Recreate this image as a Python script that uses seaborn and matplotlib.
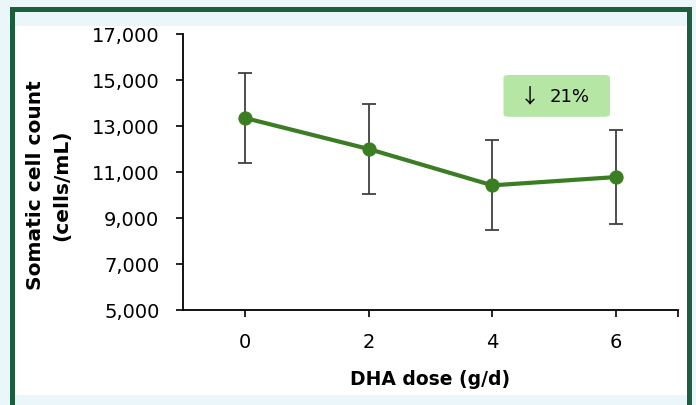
import matplotlib
matplotlib.use("Agg")
import matplotlib.pyplot as plt
import seaborn as sns
import pandas as pd
from matplotlib.patches import FancyBboxPatch, Rectangle

dose = [0, 2, 4, 6]
scc = [13350, 12000, 10420, 10780]
err = [1950, 1950, 1950, 2030]
yticks = [5000, 7000, 9000, 11000, 13000, 15000, 17000]
xticks = [0, 2, 4, 6]
annot_arrow = "\u2193"
annot_pct = "21%"

df = pd.DataFrame({"dose": dose, "scc": scc, "err": err})

sns.set_theme(style="white")
plt.rcParams['font.family'] = ['DejaVu Sans']

W, H = 696, 406
fig = plt.figure(figsize=(W / 100, H / 100), dpi=100)
bg = "#eaf6f9"
fig.patch.set_facecolor(bg)

def px(x0, y0, x1, y1):
    return (x0 / W, 1 - y1 / H, (x1 - x0) / W, (y1 - y0) / H)

# white panel
x, y, w, h = px(15, 27, 687, 396)
fig.patches.append(Rectangle((x, y), w, h, transform=fig.transFigure, facecolor="white", edgecolor="none", zorder=-3))
# frame
fc = "#1b5e3b"
for (x0, y0, x1, y1) in [(10, 8, 15, 406), (687, 8, 692, 406), (10, 8, 692, 13)]:
    x, y, w, h = px(x0, y0, x1, y1)
    fig.patches.append(Rectangle((x, y), w, h, transform=fig.transFigure, facecolor=fc, edgecolor="none", zorder=-2))

ax = fig.add_axes(px(183, 35, 678, 311))
ax.set_zorder(2)
ax.set_facecolor("none")

green = "#3b7d23"
ax.errorbar(df["dose"], df["scc"], yerr=df["err"], fmt="none", ecolor="#404040",
            elinewidth=1.3, capsize=5, capthick=1.3, zorder=2)
sns.lineplot(data=df, x="dose", y="scc", ax=ax, color=green, linewidth=3,
             marker="o", markersize=9.5, markeredgecolor=green, zorder=3)

ax.set_xlim(-1, 7)
ax.set_ylim(5000, 17000)
ax.set_xticks(xticks)
ax.set_xticks([7], minor=True)
ax.set_yticks(yticks)
ax.set_yticklabels([f"{v:,}" for v in yticks])
ax.tick_params(axis="both", which="both", direction="out", length=5, width=1.2, color="black",
               labelsize=14, labelcolor="black", bottom=True, left=True)
ax.tick_params(axis="x", pad=11)
ax.tick_params(axis="y", pad=12)
for s in ["top", "right"]:
    ax.spines[s].set_visible(False)
for s in ["left", "bottom"]:
    ax.spines[s].set_color("black")
    ax.spines[s].set_linewidth(1.3)

ax.set_xlabel("DHA dose (g/d)", fontsize=13.5, fontweight="bold", labelpad=13, color="black")
ax.set_ylabel("Somatic cell count\n(cells/mL)", fontsize=14.5, fontweight="bold",
              linespacing=1.45, color="black")
ax.yaxis.set_label_coords(-0.226, 0.457)

# annotation box
box = FancyBboxPatch((4.18, 13400), 1.72, 1820, boxstyle="round,pad=0,rounding_size=0.1",
                     mutation_aspect=1000, facecolor="#b5e6a3", edgecolor="none", zorder=1)
ax.add_patch(box)
ax.text(4.61, 14270, annot_arrow, ha="center", va="center", fontsize=14.5, color="black",
        family=["Noto Sans CJK SC", "DejaVu Sans"], zorder=4)
ax.text(5.25, 14290, annot_pct, ha="center", va="center", fontsize=13, color="black", zorder=4)

fig.savefig("out.png", dpi=100, facecolor=fig.get_facecolor())
